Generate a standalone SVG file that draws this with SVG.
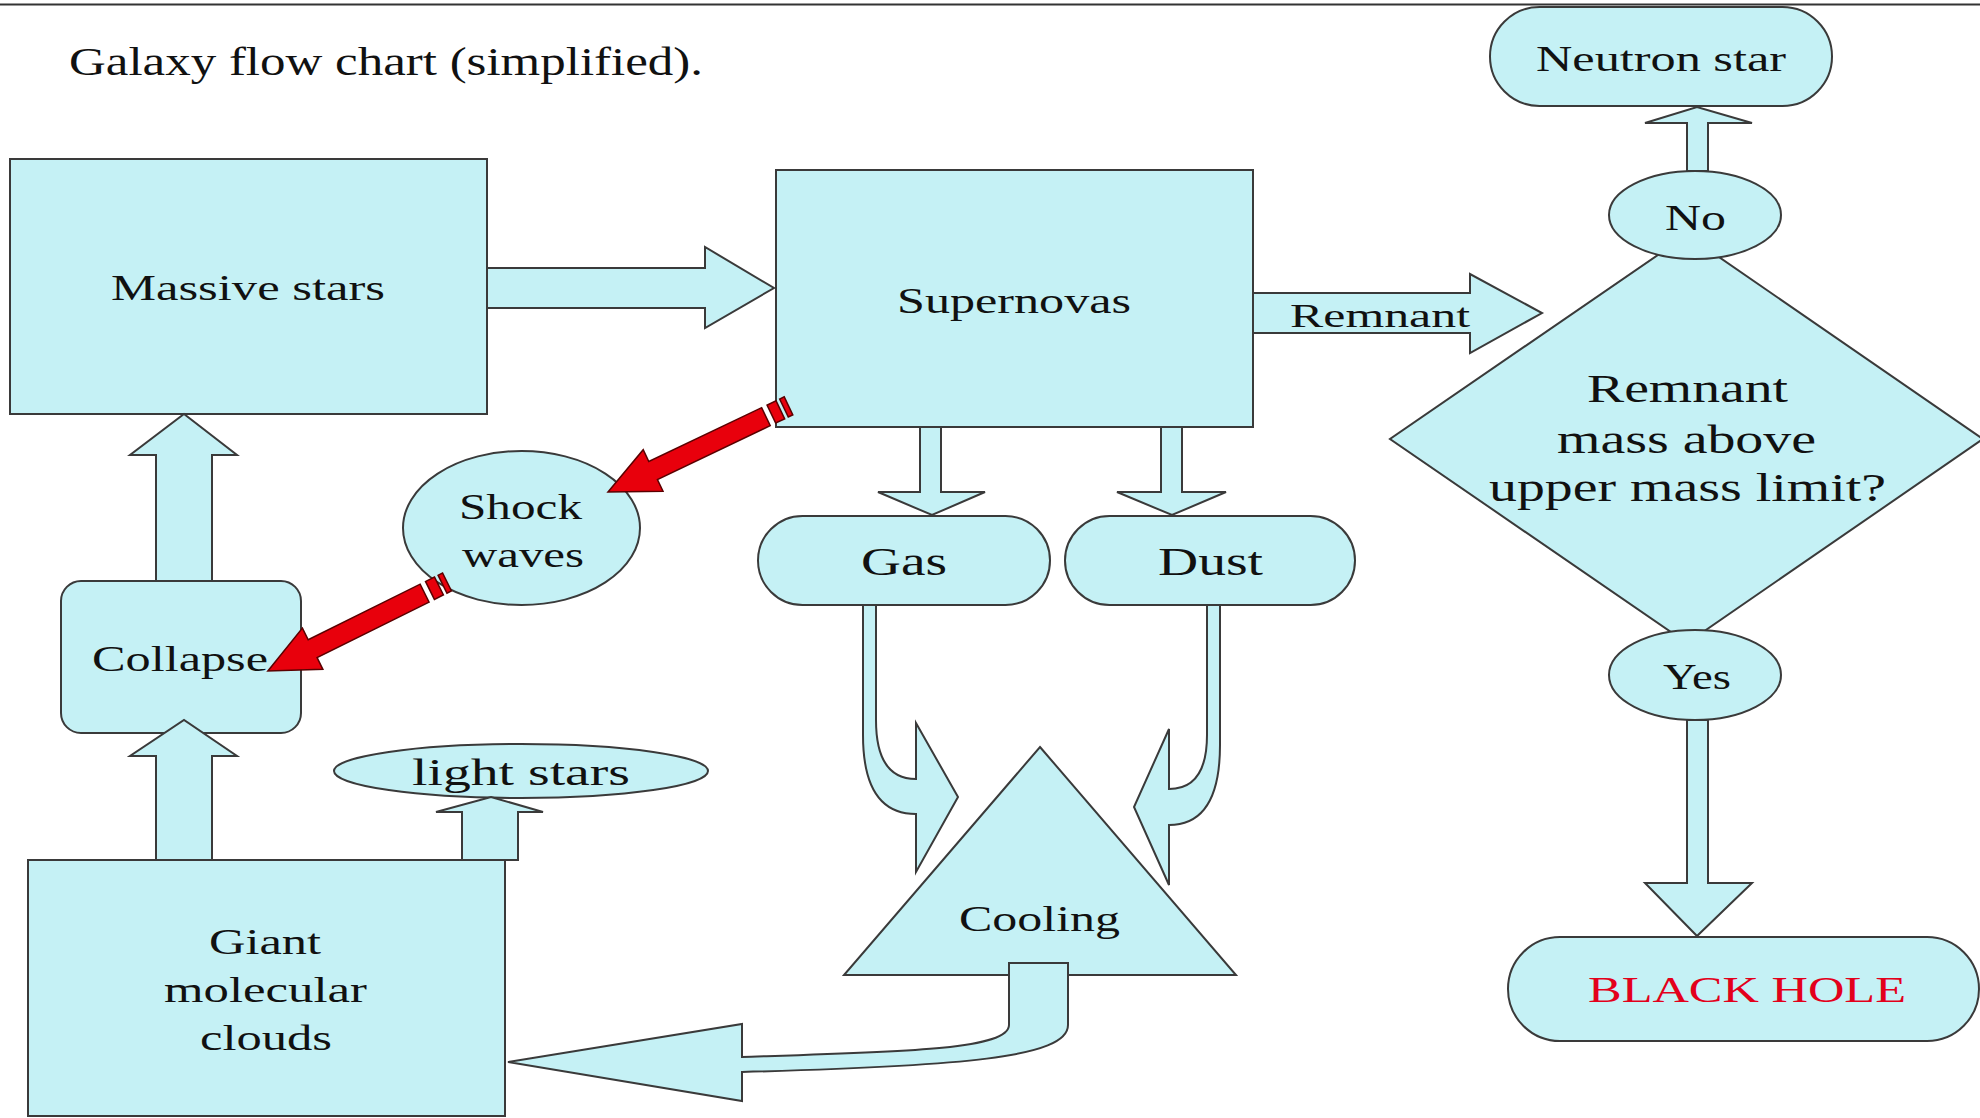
<svg xmlns="http://www.w3.org/2000/svg" width="1980" height="1118" viewBox="0 0 1980 1118">
<style>
.n{fill:#c5f1f5;stroke:#3a3a3a;stroke-width:2}
.c{fill:#c5f1f5;stroke:#3a3a3a;stroke-width:2;stroke-linejoin:miter}
.r{fill:#e8000c;stroke:#5a0000;stroke-width:1.5}
text{font-family:"Liberation Serif","Times New Roman",serif;font-size:36px;fill:#111}
.big{font-size:40px}
.red{fill:#e3001b}
</style>
<defs>
<g id="striped">
<rect x="0" y="-10" width="5" height="20"/>
<rect x="9" y="-10" width="10" height="20"/>
<path d="M25,-10 H150 V-23 L200,0 L150,23 V10 H25 Z"/>
</g>
</defs>
<rect width="1980" height="1118" fill="#ffffff"/>
<line x1="0" y1="4.5" x2="1980" y2="4.5" stroke="#333" stroke-width="2"/>
<text x="69" y="75" style="font-size:39px" textLength="634" lengthAdjust="spacingAndGlyphs">Galaxy flow chart (simplified).</text>

<g id="massive-stars">
<rect class="n" x="10" y="159" width="477" height="255"/>
<text x="111" y="300" textLength="274" lengthAdjust="spacingAndGlyphs">Massive stars</text>
</g>
<g id="supernovas">
<rect class="n" x="776" y="170" width="477" height="257"/>
<text x="897" y="313" textLength="234" lengthAdjust="spacingAndGlyphs">Supernovas</text>
</g>
<g id="shock-waves">
<ellipse class="n" cx="521.5" cy="528" rx="118.5" ry="77"/>
<text x="459" y="519" textLength="123" lengthAdjust="spacingAndGlyphs">Shock</text>
<text x="462" y="567" textLength="122" lengthAdjust="spacingAndGlyphs">waves</text>
</g>
<g id="collapse">
<rect class="n" x="61" y="581" width="240" height="152" rx="20" ry="20"/>
<text x="92" y="671" textLength="176" lengthAdjust="spacingAndGlyphs">Collapse</text>
</g>
<g id="light-stars">
<ellipse class="n" cx="521" cy="771" rx="187" ry="27"/>
<text x="412" y="785" style="font-size:38px" textLength="218" lengthAdjust="spacingAndGlyphs">light stars</text>
</g>
<g id="giant-molecular-clouds">
<rect class="n" x="28" y="860" width="477" height="256"/>
<text x="209" y="954" textLength="112" lengthAdjust="spacingAndGlyphs">Giant</text>
<text x="164" y="1002" textLength="203" lengthAdjust="spacingAndGlyphs">molecular</text>
<text x="200" y="1050" textLength="132" lengthAdjust="spacingAndGlyphs">clouds</text>
</g>
<g id="gas">
<rect class="n" x="758" y="516" width="292" height="89" rx="44.5" ry="44.5"/>
<text class="big" x="861" y="575" textLength="86" lengthAdjust="spacingAndGlyphs">Gas</text>
</g>
<g id="dust">
<rect class="n" x="1065" y="516" width="290" height="89" rx="44.5" ry="44.5"/>
<text class="big" x="1158" y="575" textLength="105" lengthAdjust="spacingAndGlyphs">Dust</text>
</g>
<g id="cooling">
<polygon class="n" points="1040,747 1236,975 844,975"/>
<text x="959" y="931" textLength="161" lengthAdjust="spacingAndGlyphs">Cooling</text>
</g>
<g id="neutron-star">
<rect class="n" x="1490" y="7" width="342" height="99" rx="49.5" ry="49.5"/>
<text x="1536" y="71" textLength="250" lengthAdjust="spacingAndGlyphs">Neutron star</text>
</g>
<g id="decision">
<polygon class="n" points="1687,235 1983,439 1687,643 1390,439"/>
<text class="big" x="1587" y="402" textLength="201" lengthAdjust="spacingAndGlyphs">Remnant</text>
<text class="big" x="1557" y="453" textLength="259" lengthAdjust="spacingAndGlyphs">mass above</text>
<text class="big" x="1489" y="501" textLength="397" lengthAdjust="spacingAndGlyphs">upper mass limit?</text>
</g>
<g id="no">
<ellipse class="n" cx="1695" cy="215" rx="86" ry="44"/>
<text x="1665" y="230" textLength="61" lengthAdjust="spacingAndGlyphs">No</text>
</g>
<g id="yes">
<ellipse class="n" cx="1695" cy="675" rx="86" ry="45"/>
<text x="1663" y="689" textLength="68" lengthAdjust="spacingAndGlyphs">Yes</text>
</g>
<g id="black-hole">
<rect class="n" x="1508" y="937" width="471" height="104" rx="52" ry="52"/>
<text class="red" x="1588" y="1002" textLength="318" lengthAdjust="spacingAndGlyphs">BLACK HOLE</text>
</g>

<g id="connectors">
<path class="c" d="M487,268 H705 V247 L774,288 L705,328 V308 H487 Z"/>
<path class="c" d="M1253,293 H1470 V274 L1542,313 L1470,353 V333 H1253 Z"/>
<text x="1290" y="327" style="font-size:34px" textLength="180" lengthAdjust="spacingAndGlyphs">Remnant</text>
<path class="c" d="M920,427 V492 H878 L932,515 L985,492 H941 V427 Z"/>
<path class="c" d="M1161,427 V492 H1117 L1172,515 L1226,492 H1182 V427 Z"/>
<path class="c" d="M156,581 V455 H130 L184,414 L237,455 H212 V581 Z"/>
<path class="c" d="M156,860 V756 H130 L184,720 L237,756 H212 V860 Z"/>
<path class="c" d="M462,860 V812 H436 L491,797 L543,812 H518 V860 Z"/>
<path class="c" d="M1687,171 V123 H1645 L1697,107 L1752,123 H1708 V171 Z"/>
<path class="c" d="M1687,720 V883 H1645 L1697,936 L1752,883 H1708 V720 Z"/>
<path class="c" d="M863,605 V735 Q863,814 916,814 V872 L958,797 L916,723 V779 Q876,779 876,720 V605 Z"/>
<path class="c" d="M1220,605 V745 Q1220,825 1169,825 V885 L1134,807 L1169,729 V789 Q1207,789 1207,735 V605 Z"/>
<path class="c" d="M1009,963 H1068 V1025 C1068,1058 960,1066 742,1072 V1101 L508,1062 L742,1024 V1057 C900,1052 1009,1050 1009,1025 Z"/>
<use href="#striped" class="r" transform="translate(788.5,405.9) rotate(154.5)"/>
<use href="#striped" class="r" transform="translate(447,582) rotate(153.6)"/>
</g>
</svg>
